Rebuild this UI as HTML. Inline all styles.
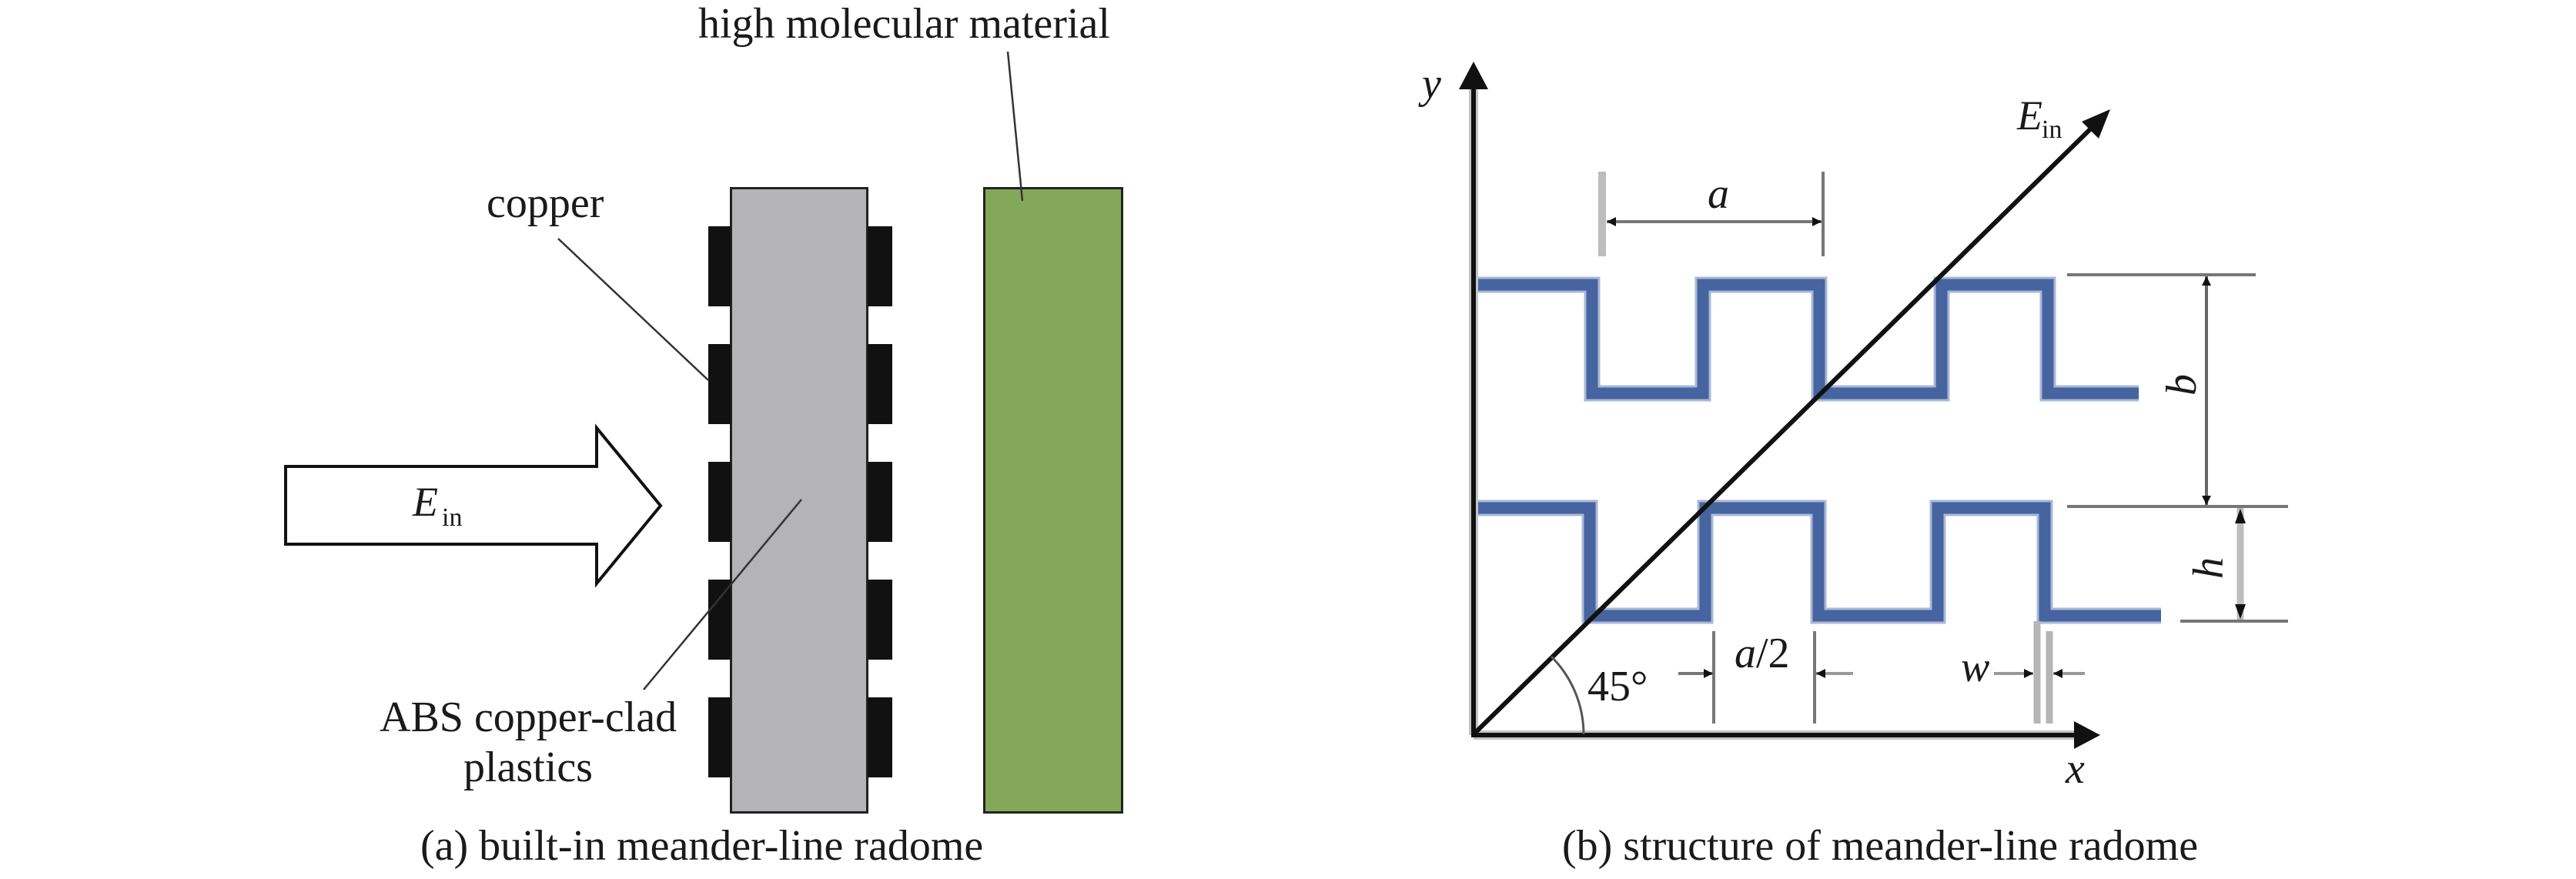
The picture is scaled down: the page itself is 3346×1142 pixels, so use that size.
<!DOCTYPE html>
<html>
<head>
<meta charset="utf-8">
<style>
  html, body { margin: 0; padding: 0; background: #ffffff; }
  body { width: 3346px; height: 1142px; overflow: hidden; }
  svg { display: block; }
  text { font-family: "Liberation Serif", "Times New Roman", serif; fill: #1a1a1a; }
  .it { font-style: italic; }
</style>
</head>
<body>
<svg width="3346" height="1142" viewBox="0 0 3346 1142" xmlns="http://www.w3.org/2000/svg">
  <defs>
    <marker id="ah" viewBox="0 0 10 10" refX="10" refY="5" markerWidth="14" markerHeight="12" markerUnits="userSpaceOnUse" orient="auto">
      <path d="M0,0 L10,5 L0,10 Z" fill="#111"/>
    </marker>
  </defs>

  <!-- ================= Panel (a) ================= -->
  <!-- Grey ABS slab -->
  <rect x="949.5" y="244.5" width="177" height="811" fill="#b4b3b5" stroke="#222" stroke-width="3"/>
  <!-- copper pads -->
  <g fill="#111">
    <rect x="920" y="294" width="29" height="104"/>
    <rect x="920" y="447" width="29" height="104"/>
    <rect x="920" y="600" width="29" height="104"/>
    <rect x="920" y="753" width="29" height="104"/>
    <rect x="920" y="906" width="29" height="104"/>
    <rect x="1127" y="294" width="32" height="104"/>
    <rect x="1127" y="447" width="32" height="104"/>
    <rect x="1127" y="600" width="32" height="104"/>
    <rect x="1127" y="753" width="32" height="104"/>
    <rect x="1127" y="906" width="32" height="104"/>
  </g>
  <!-- Green high molecular material -->
  <rect x="1278.5" y="244.5" width="179" height="811" fill="#84a859" stroke="#222" stroke-width="3"/>

  <!-- Big hollow arrow -->
  <polygon points="371,606 775,606 775,556 858,657 775,758 775,707 371,707" fill="#fff" stroke="#111" stroke-width="4" stroke-linejoin="miter"/>
  <text class="it" x="536" y="670" font-size="54">E</text>
  <text x="574" y="683" font-size="34">in</text>

  <!-- Leader lines -->
  <line x1="725" y1="310" x2="920" y2="494" stroke="#333" stroke-width="2.5"/>
  <line x1="1309" y1="67" x2="1328" y2="261" stroke="#333" stroke-width="2.5"/>
  <line x1="836" y1="896" x2="1041" y2="649" stroke="#333" stroke-width="2.5"/>

  <!-- Labels -->
  <text x="632" y="282" font-size="56">copper</text>
  <text x="907" y="49" font-size="56">high molecular material</text>
  <text x="493" y="950" font-size="56">ABS copper-clad</text>
  <text x="602" y="1015" font-size="56">plastics</text>

  <text x="546" y="1117" font-size="56">(a) built-in meander-line radome</text>

  <!-- ================= Panel (b) ================= -->
  <!-- Meander lines -->
  <g fill="none" stroke-linejoin="miter" stroke-linecap="butt">
    <polyline points="1914,370 2068,370 2068,511 2212,511 2212,370 2363,370 2363,511 2522,511 2522,370 2660,370 2660,511 2778,511" stroke="#a9b8d6" stroke-width="21"/>
    <polyline points="1914,370 2068,370 2068,511 2212,511 2212,370 2363,370 2363,511 2522,511 2522,370 2660,370 2660,511 2778,511" stroke="#4664a0" stroke-width="15"/>
    <polyline points="1914,660 2065,660 2065,800 2215,800 2215,660 2362,660 2362,800 2517,800 2517,660 2656,660 2656,800 2807,800" stroke="#a9b8d6" stroke-width="21"/>
    <polyline points="1914,660 2065,660 2065,800 2215,800 2215,660 2362,660 2362,800 2517,800 2517,660 2656,660 2656,800 2807,800" stroke="#4664a0" stroke-width="15"/>
  </g>

  <!-- Axes -->
  <line x1="1914" y1="955" x2="1914" y2="112" stroke="#c4c4c4" stroke-width="12"/>
  <line x1="1914" y1="955" x2="2700" y2="955" stroke="#c4c4c4" stroke-width="12"/>
  <line x1="1914" y1="957" x2="1914" y2="112" stroke="#111" stroke-width="6"/>
  <line x1="1911" y1="955" x2="2700" y2="955" stroke="#111" stroke-width="6"/>
  <polygon points="1914,80 1933,116 1895,116" fill="#111"/>
  <polygon points="2728,955 2694,937 2694,973" fill="#111"/>

  <!-- E_in diagonal -->
  <line x1="1914" y1="954" x2="2722" y2="161" stroke="#111" stroke-width="6"/>
  <polygon points="2741,142 2726,180 2704,158" fill="#111"/>
  <text class="it" x="2620" y="168" font-size="54">E</text>
  <text x="2652" y="179" font-size="34">in</text>

  <!-- 45 degree arc -->
  <path d="M 2057 954 A 143 143 0 0 0 2015 853" fill="none" stroke="#555" stroke-width="3"/>
  <text x="2062" y="910" font-size="56">45°</text>

  <!-- Axis labels -->
  <text class="it" x="1847" y="127" font-size="56">y</text>
  <text class="it" x="2683" y="1017" font-size="56">x</text>

  <!-- Dimension a -->
  <line x1="2081" y1="223" x2="2081" y2="333" stroke="#bdbdbd" stroke-width="10"/>
  <line x1="2368" y1="223" x2="2368" y2="333" stroke="#777" stroke-width="4"/>
  <line x1="2225" y1="288" x2="2087" y2="288" stroke="#777" stroke-width="4" marker-end="url(#ah)"/>
  <line x1="2225" y1="288" x2="2366" y2="288" stroke="#777" stroke-width="4" marker-end="url(#ah)"/>
  <text class="it" x="2218" y="270" font-size="56">a</text>

  <!-- Dimension a/2 -->
  <line x1="2226" y1="820" x2="2226" y2="940" stroke="#777" stroke-width="4"/>
  <line x1="2357" y1="820" x2="2357" y2="940" stroke="#777" stroke-width="4"/>
  <line x1="2180" y1="875" x2="2225" y2="875" stroke="#777" stroke-width="4" marker-end="url(#ah)"/>
  <line x1="2407" y1="875" x2="2359" y2="875" stroke="#999" stroke-width="4" marker-end="url(#ah)"/>
  <text x="2253" y="867" font-size="56"><tspan class="it">a</tspan>/2</text>

  <!-- Dimension w -->
  <line x1="2646" y1="807" x2="2646" y2="940" stroke="#b5b5b5" stroke-width="9"/>
  <line x1="2662" y1="820" x2="2662" y2="940" stroke="#b5b5b5" stroke-width="9"/>
  <line x1="2590" y1="875" x2="2641" y2="875" stroke="#999" stroke-width="4" marker-end="url(#ah)"/>
  <line x1="2708" y1="875" x2="2667" y2="875" stroke="#999" stroke-width="4" marker-end="url(#ah)"/>
  <text class="it" x="2547" y="885" font-size="56">w</text>

  <!-- Dimensions b and h -->
  <line x1="2685" y1="357" x2="2930" y2="357" stroke="#777" stroke-width="4"/>
  <line x1="2685" y1="658" x2="2972" y2="658" stroke="#777" stroke-width="4"/>
  <line x1="2832" y1="807" x2="2972" y2="807" stroke="#777" stroke-width="4"/>
  <line x1="2866" y1="508" x2="2866" y2="359" stroke="#666" stroke-width="4" marker-end="url(#ah)"/>
  <line x1="2866" y1="508" x2="2866" y2="656" stroke="#666" stroke-width="4" marker-end="url(#ah)"/>
  <line x1="2910" y1="732" x2="2910" y2="660" stroke="#bdbdbd" stroke-width="9"/>
  <line x1="2910" y1="732" x2="2910" y2="805" stroke="#bdbdbd" stroke-width="9"/>
  <polygon points="2910,661 2903,680 2917,680" fill="#111"/>
  <polygon points="2910,804 2903,785 2917,785" fill="#111"/>
  <text class="it" x="0" y="0" font-size="56" text-anchor="middle" transform="translate(2852,500) rotate(-90)">b</text>
  <text class="it" x="0" y="0" font-size="56" text-anchor="middle" transform="translate(2887,738) rotate(-90)">h</text>

  <text x="2029" y="1117" font-size="56">(b) structure of meander-line radome</text>
</svg>
</body>
</html>
